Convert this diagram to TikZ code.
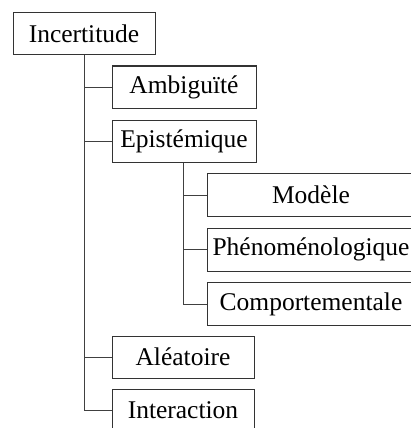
\documentclass[tikz,border=0pt]{standalone}
\usepackage{fontspec}
\setmainfont{Liberation Serif}

\begin{document}
\begin{tikzpicture}[x=1pt, y=-1pt]
				\tikzstyle{every node}=[font=\fontsize{25.5}{30}\selectfont]
				\tikzstyle{box}=[draw=black!80, line width=1pt, inner sep=0pt, minimum height=42pt]
				\tikzstyle{link}=[draw=black!75, line width=1pt]
				\useasboundingbox (0,0) rectangle (410,428);
				\node[box, minimum width=142pt] (I) at (84, 34) {Incertitude};
				\node[box, minimum width=144pt] (A) at (184, 87) {Ambiguïté};
				\node[box, minimum width=144pt] (E) at (184, 141) {Epistémique};
				\node[box, minimum width=208pt, minimum height=43pt] (M) at (311, 195) {Modèle};
				\node[box, minimum width=208pt, minimum height=43pt] (P) at (311, 249.5) {Phénoménologique};
				\node[box, minimum width=208pt, minimum height=43pt] (C) at (311, 304) {Comportementale};
				\node[box, minimum width=142pt] (L) at (183, 357) {Aléatoire};
				\node[box, minimum width=142pt] (N) at (183, 410) {Interaction};
				\draw [link] (I.south) |- (A.west);
				\draw [link] (I.south) |- (E.west);
				\draw [link] (I.south) |- (L.west);
				\draw [link] (I.south) |- (N.west);
				\draw [link] ([xshift=-1pt]E.south) |- (M.west);
				\draw [link] ([xshift=-1pt]E.south) |- (P.west);
				\draw [link] ([xshift=-1pt]E.south) |- (C.west);
		\end{tikzpicture}
\end{document}
